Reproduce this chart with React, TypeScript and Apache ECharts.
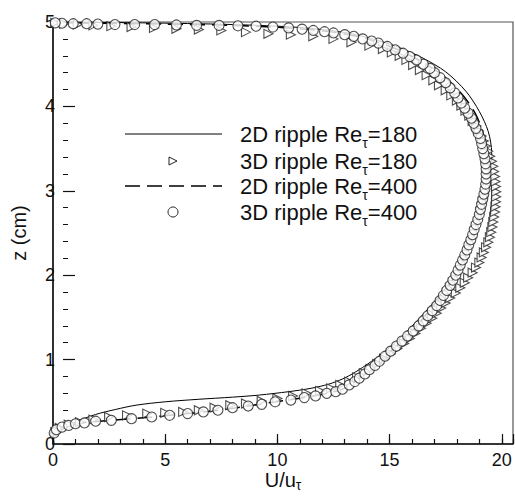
import React, { useEffect, useRef } from 'react';
import * as echarts from 'echarts';

// [U/u_tau, z (cm)]
const line2D180: [number, number][] = [
  [0, 0.06], [0.4, 0.17], [1.0, 0.26], [1.9, 0.35], [2.8, 0.41], [3.7, 0.46], [5.0, 0.5], [6.5, 0.53],
  [8.0, 0.555], [9.2, 0.58], [10.5, 0.62], [11.5, 0.66], [12.3, 0.71], [12.9, 0.77], [13.4, 0.84],
  [14.2, 0.98], [14.9, 1.12], [15.6, 1.29], [16.4, 1.51], [17.2, 1.75], [17.9, 1.99], [18.5, 2.3],
  [19.0, 2.64], [19.35, 2.95], [19.55, 3.25], [19.55, 3.45], [19.4, 3.7], [19.0, 3.94], [18.4, 4.18],
  [17.5, 4.41], [16.5, 4.57], [15.5, 4.69], [14.5, 4.78], [13.0, 4.875], [11.0, 4.935], [8.0, 4.97],
  [4.0, 4.99], [0, 5.0],
];

const line2D400: [number, number][] = [
  [0, 0.1], [0.5, 0.2], [1.3, 0.25], [2.6, 0.28], [4.4, 0.32], [6.0, 0.36], [7.35, 0.4], [8.7, 0.45],
  [9.9, 0.5], [11.2, 0.55], [12.2, 0.6], [12.9, 0.65], [13.45, 0.74], [14.1, 0.88], [14.8, 1.04],
  [15.55, 1.22], [16.3, 1.43], [17.0, 1.66], [17.7, 1.9], [18.3, 2.2], [18.8, 2.55], [19.15, 2.9],
  [19.35, 3.2], [19.35, 3.4], [19.2, 3.65], [18.85, 3.9], [18.3, 4.12], [17.5, 4.34], [16.5, 4.52],
  [15.3, 4.68], [14.0, 4.8], [12.5, 4.88], [10.5, 4.93], [8.0, 4.96], [5.0, 4.975], [2.0, 4.985], [0, 4.995],
];

const tri3D180: [number, number][] = [
  [0.1, 0.14], [0.3, 0.19], [0.7, 0.23], [1.2, 0.26], [1.8, 0.29], [2.5, 0.32], [3.3, 0.34], [4.2, 0.36],
  [5.0, 0.37], [5.8, 0.38], [6.5, 0.4], [7.2, 0.43], [7.9, 0.46], [8.6, 0.48], [9.3, 0.51], [10.0, 0.54],
  [10.7, 0.57], [11.3, 0.6], [11.9, 0.63], [12.4, 0.66], [12.8, 0.7], [13.2, 0.74], [13.55, 0.79],
  [13.85, 0.84], [14.15, 0.89], [14.45, 0.95], [14.75, 1.01], [15.05, 1.07], [15.35, 1.13], [15.65, 1.19],
  [15.9, 1.25], [16.15, 1.31], [16.4, 1.37], [16.65, 1.43], [16.9, 1.49], [17.1, 1.55], [17.3, 1.61],
  [17.5, 1.67], [17.7, 1.73], [17.95, 1.79], [18.15, 1.85], [18.35, 1.91], [18.5, 1.97], [18.7, 2.03],
  [18.85, 2.09], [19.0, 2.15], [19.1, 2.21], [19.2, 2.27], [19.3, 2.33], [19.4, 2.39], [19.47, 2.45],
  [19.53, 2.51], [19.58, 2.57], [19.62, 2.63], [19.66, 2.69], [19.7, 2.75], [19.72, 2.81], [19.74, 2.87],
  [19.75, 2.93], [19.75, 2.99], [19.74, 3.05], [19.72, 3.11], [19.7, 3.17], [19.66, 3.23], [19.62, 3.29],
  [19.56, 3.35], [19.48, 3.41], [19.4, 3.47], [19.3, 3.53], [19.2, 3.59], [19.1, 3.65], [18.98, 3.71],
  [18.85, 3.77], [18.7, 3.83], [18.55, 3.89], [18.38, 3.95], [18.2, 4.01], [18.0, 4.07], [17.75, 4.13],
  [17.5, 4.19], [17.2, 4.25], [16.95, 4.31], [16.65, 4.37], [16.35, 4.43], [16.05, 4.49], [15.75, 4.55],
  [15.45, 4.6], [15.1, 4.64], [14.7, 4.68], [14.1, 4.72], [13.3, 4.76], [12.5, 4.8], [11.6, 4.83],
  [10.6, 4.85], [9.6, 4.86], [8.6, 4.88], [7.5, 4.9], [6.5, 4.91], [5.5, 4.92], [4.5, 4.93], [3.5, 4.94],
  [2.6, 4.95], [1.8, 4.96], [1.1, 4.97], [0.5, 4.98], [0.1, 4.99],
];

const circ3D400: [number, number][] = [
  [0.05, 0.13], [0.15, 0.17], [0.4, 0.2], [0.7, 0.22], [1.0, 0.24], [1.4, 0.25], [1.9, 0.27], [2.6, 0.28],
  [3.5, 0.3], [4.4, 0.32], [5.2, 0.34], [6.0, 0.36], [6.7, 0.38], [7.35, 0.4], [8.0, 0.43], [8.7, 0.45],
  [9.3, 0.47], [9.9, 0.5], [10.6, 0.52], [11.2, 0.55], [11.7, 0.57], [12.2, 0.6], [12.6, 0.62], [12.9, 0.65],
  [13.2, 0.7], [13.45, 0.74], [13.65, 0.78], [13.9, 0.83], [14.1, 0.88], [14.35, 0.93], [14.55, 0.98],
  [14.8, 1.04], [15.05, 1.1], [15.3, 1.16], [15.55, 1.22], [15.8, 1.28], [16.05, 1.34], [16.3, 1.4],
  [16.5, 1.46], [16.7, 1.52], [16.9, 1.58], [17.1, 1.64], [17.25, 1.7], [17.4, 1.76], [17.55, 1.82],
  [17.7, 1.88], [17.82, 1.94], [17.95, 2.0], [18.05, 2.06], [18.15, 2.12], [18.25, 2.18], [18.35, 2.24],
  [18.45, 2.3], [18.53, 2.36], [18.62, 2.42], [18.7, 2.48], [18.77, 2.54], [18.85, 2.6], [18.93, 2.66],
  [19.0, 2.72], [19.05, 2.78], [19.1, 2.84], [19.15, 2.9], [19.2, 2.96], [19.25, 3.02], [19.28, 3.08],
  [19.3, 3.14], [19.3, 3.2], [19.3, 3.26], [19.28, 3.32], [19.25, 3.38], [19.2, 3.44], [19.15, 3.5],
  [19.1, 3.56], [19.05, 3.62], [18.95, 3.68], [18.85, 3.74], [18.75, 3.8], [18.65, 3.86], [18.5, 3.92],
  [18.35, 3.98], [18.2, 4.04], [18.05, 4.1], [17.9, 4.16], [17.7, 4.22], [17.5, 4.28], [17.25, 4.34],
  [17.0, 4.4], [16.8, 4.45], [16.5, 4.5], [16.2, 4.55], [15.9, 4.59], [15.6, 4.63], [15.25, 4.67],
  [14.9, 4.71], [14.5, 4.75], [14.2, 4.775], [13.8, 4.8], [13.4, 4.83], [13.0, 4.85], [12.5, 4.87],
  [12.1, 4.885], [11.6, 4.9], [11.1, 4.915], [10.5, 4.93], [9.8, 4.94], [9.05, 4.95], [8.24, 4.955],
  [7.4, 4.96], [6.4, 4.96], [5.5, 4.965], [4.53, 4.97], [3.64, 4.97], [2.76, 4.97], [2.0, 4.975],
  [1.5, 4.98], [0.9, 4.98], [0.4, 4.985], [0.1, 4.99],
];

const legendLabels = [
  '2D ripple Re{s|τ}=180',
  '3D ripple Re{s|τ}=180',
  '2D ripple Re{s|τ}=400',
  '3D ripple Re{s|τ}=400',
];

const X_MIN = 0;
const X_MAX = 20.5;
const Y_MIN = 0;
const Y_MAX = 5;

const FONT = '"Liberation Sans", Arial, Helvetica, sans-serif';
const INK = '#111';

export default function App() {
  const ref = useRef<HTMLDivElement>(null);
  useEffect(() => {
    if (!ref.current) return;
    const chart = echarts.init(ref.current, undefined, { renderer: 'svg' });
    const subRich = {
      s: { fontSize: 14, fontFamily: FONT, color: INK, lineHeight: 10, verticalAlign: 'bottom' },
    };
    const legendRows = [134, 161, 186, 212];
    const option: any = {
      animation: false,
      backgroundColor: '#fff',
      grid: {
        left: 53, right: 2, top: 22, bottom: 56,
        containLabel: false, outerBoundsMode: 'none',
        show: true, borderColor: '#555', borderWidth: 1.2, backgroundColor: 'transparent',
      },
      xAxis: [
        {
          type: 'value', min: X_MIN, max: X_MAX, interval: 1, position: 'bottom',
          axisLine: { show: true, lineStyle: { color: INK, width: 1.5 } },
          axisTick: { show: true, inside: true, length: 5, lineStyle: { color: INK, width: 1.2 } },
          axisLabel: { show: false },
          splitLine: { show: false },
        },
        {
          type: 'value', min: X_MIN, max: X_MAX, interval: 5, position: 'bottom', offset: 0,
          axisLine: { show: false },
          axisTick: { show: true, inside: true, length: 10, lineStyle: { color: INK, width: 1.2 } },
          axisLabel: {
            show: true, fontSize: 18, lineHeight: 16, fontFamily: FONT, color: INK, margin: 8,
            formatter: (v: number) => (v % 5 === 0 ? String(v) : ''),
          },
          splitLine: { show: false },
          name: 'U/u{s|τ}', nameLocation: 'middle', nameGap: 24, nameMoveOverlap: false,
          nameTextStyle: { fontSize: 20, fontFamily: FONT, color: INK, lineHeight: 24, rich: subRich },
        },
      ],
      yAxis: [
        {
          type: 'value', min: Y_MIN, max: Y_MAX, interval: 1, position: 'left',
          axisLine: { show: true, lineStyle: { color: INK, width: 1.5 } },
          axisTick: { show: false },
          axisLabel: { show: true, fontSize: 18, lineHeight: 14, fontFamily: FONT, color: INK, margin: -2 },
          splitLine: { show: false },
          name: 'z (cm)', nameLocation: 'middle', nameGap: 24, nameRotate: 90,
          nameTextStyle: { fontSize: 20, fontFamily: FONT, color: INK },
        },
        {
          type: 'value', min: Y_MIN, max: Y_MAX, interval: 1, position: 'left', offset: -10,
          axisLine: { show: false },
          axisTick: { show: true, inside: true, length: 12, lineStyle: { color: INK, width: 1.2 } },
          minorTick: { show: true, splitNumber: 5, length: 5, lineStyle: { color: INK, width: 1 } },
          axisLabel: { show: false },
          splitLine: { show: false },
        },
      ],
      series: [
        {
          name: '2D ripple Re=180', type: 'line', data: line2D180, smooth: 0.3,
          showSymbol: false, lineStyle: { color: '#000', width: 1 }, z: 2,
        },
        {
          name: '2D ripple Re=400', type: 'line', data: line2D400, smooth: 0.3,
          showSymbol: false, lineStyle: { color: '#000', width: 1.5, type: [15, 7] }, z: 2,
        },
        {
          name: '3D ripple Re=180', type: 'scatter', data: tri3D180, symbol: 'triangle',
          symbolSize: 9, symbolRotate: -90,
          itemStyle: { color: '#fff', borderColor: '#222', borderWidth: 1.1 }, z: 3,
        },
        {
          name: '3D ripple Re=400', type: 'scatter', data: circ3D400, symbol: 'circle',
          symbolSize: 10,
          itemStyle: { color: '#fff', borderColor: '#222', borderWidth: 1.1 }, z: 4,
        },
      ],
      graphic: [
        { type: 'line', shape: { x1: 125, y1: legendRows[0], x2: 222, y2: legendRows[0] }, style: { stroke: '#000', lineWidth: 1 } },
        {
          type: 'polygon',
          shape: { points: [[169, legendRows[1] - 4], [169, legendRows[1] + 4], [177, legendRows[1]]] },
          style: { stroke: '#222', fill: '#fff', lineWidth: 1 },
        },
        { type: 'line', shape: { x1: 125, y1: legendRows[2], x2: 222, y2: legendRows[2] }, style: { stroke: '#000', lineWidth: 1.5, lineDash: [15, 7] } },
        { type: 'circle', shape: { cx: 173, cy: legendRows[3], r: 5 }, style: { stroke: '#222', fill: '#fff', lineWidth: 1 } },
        ...legendLabels.map((t, i) => ({
          type: 'text', x: 240, y: legendRows[i],
          style: {
            text: t, fontSize: 22, fontFamily: FONT, fill: INK, lineHeight: 32,
            verticalAlign: 'middle', align: 'left',
            rich: { s: { fontSize: 14, fontFamily: FONT, fill: INK, lineHeight: 10, verticalAlign: 'bottom' } },
          },
        })),
      ],
    };
    chart.setOption(option);
    return () => chart.dispose();
  }, []);
  return (
    <div
      ref={ref}
      style={{ position: 'fixed', left: 0, top: 0, width: 515, height: 500, background: '#fff' }}
    />
  );
}
